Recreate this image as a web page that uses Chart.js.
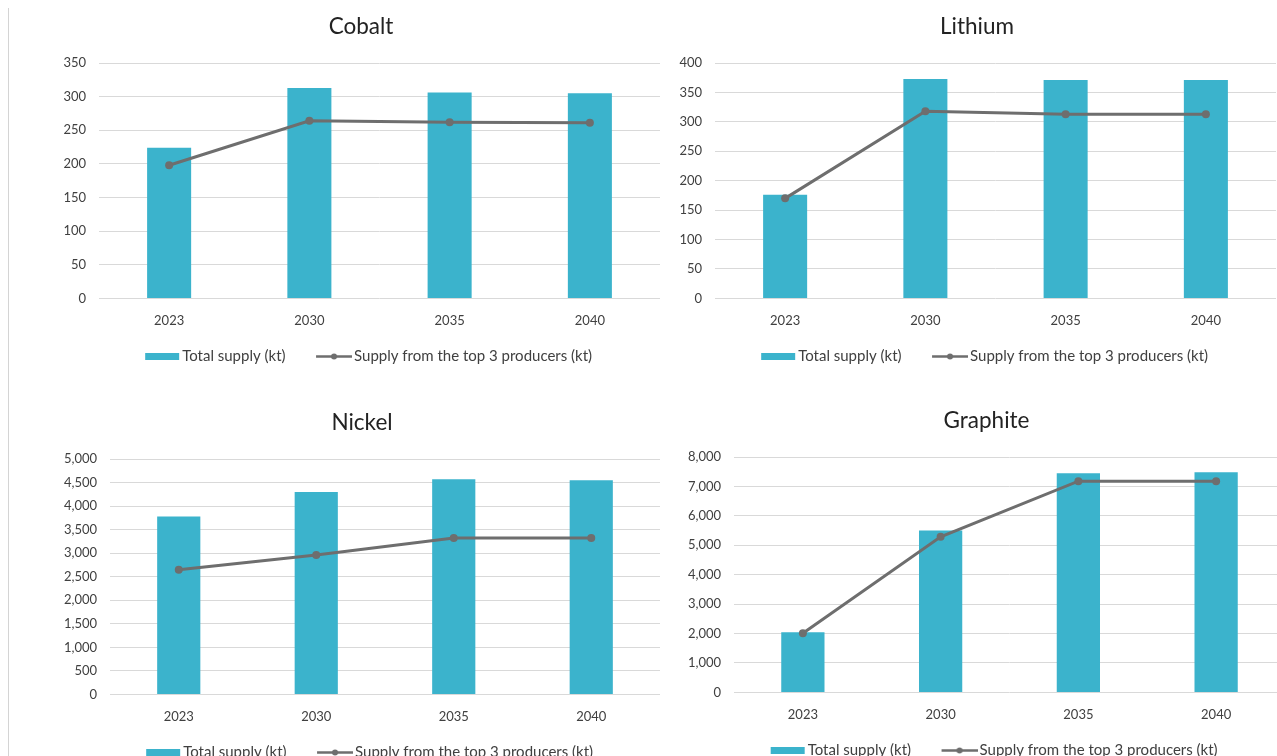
<!DOCTYPE html>
<html>
<head>
<meta charset="utf-8">
<script src="https://cdn.jsdelivr.net/npm/chart.js@4.4.1/dist/chart.umd.min.js"></script>
<style>
  html, body { margin: 0; padding: 0; background: #fff; overflow: hidden; }
  body { width: 1277px; height: 756px; position: relative; }
  canvas { position: absolute; }
  #cobaltChart { left: 50px; top: 0px; }
  #lithiumChart { left: 666px; top: 0px; }
  #nickelChart { left: 45px; top: 396px; }
  #graphiteChart { left: 670px; top: 394px; }
  .edge { position: absolute; left: 8px; top: 8px; bottom: 0; width: 1px; background: #d4d4d4; }
</style>
</head>
<body>
<div class="edge"></div>
<canvas id="cobaltChart" width="630" height="374"></canvas>
<canvas id="lithiumChart" width="630" height="374"></canvas>
<canvas id="nickelChart" width="640" height="374"></canvas>
<canvas id="graphiteChart" width="630" height="374"></canvas>
<script>
// Supply of battery minerals, total vs top 3 producers (kt)
const years = ["2023", "2030", "2035", "2040"];

const cobaltTotal = [224, 313, 306, 305];
const cobaltTop3 = [198, 264, 262, 261];

const lithiumTotal = [176, 373, 371, 371];
const lithiumTop3 = [170, 318, 313, 313];

const nickelTotal = [3780, 4300, 4570, 4550];
const nickelTop3 = [2650, 2960, 3320, 3320];

const graphiteTotal = [2040, 5500, 7450, 7480];
const graphiteTop3 = [2010, 5290, 7180, 7180];

const seriesNames = ["Total supply (kt)", "Supply from the top 3 producers (kt)"];

const barColor = "#3BB3CC";
const lineColor = "#6E6E6E";
const textColor = "#404040";

Chart.defaults.font.family = "Lato, 'Open Sans', sans-serif";
Chart.defaults.color = textColor;

// legend swatches, drawn as images so the bar one is a flat box and the line one has a dot
// (transparent space on the left makes the gap between the two legend items)
function makeSwatch(kind) {
  const c = document.createElement("canvas");
  c.width = 67;
  c.height = 9;
  const g = c.getContext("2d");
  if (kind === "bar") {
    g.fillStyle = barColor;
    g.fillRect(32, 1, 34, 7);
  } else {
    g.strokeStyle = lineColor;
    g.lineWidth = 2.5;
    g.beginPath();
    g.moveTo(31, 4.5);
    g.lineTo(67, 4.5);
    g.stroke();
    g.fillStyle = lineColor;
    g.beginPath();
    g.arc(49, 4.5, 3, 0, Math.PI * 2);
    g.fill();
  }
  return c;
}
const barSwatch = makeSwatch("bar");
const lineSwatch = makeSwatch("line");

function renderPanel(id, title, total, top3, yMax, yStep, pad, axisWidth) {
  const ctx = document.getElementById(id).getContext("2d");
  new Chart(ctx, {
    type: "bar",
    data: {
      labels: years,
      datasets: [
        {
          label: seriesNames[0],
          data: total,
          backgroundColor: barColor,
          borderWidth: 0,
          barPercentage: 0.314,
          categoryPercentage: 1,
          order: 1
        },
        {
          type: "line",
          label: seriesNames[1],
          data: top3,
          borderColor: lineColor,
          backgroundColor: lineColor,
          borderWidth: 3,
          pointRadius: 4,
          pointBackgroundColor: lineColor,
          pointBorderWidth: 0,
          tension: 0,
          order: 0
        }
      ]
    },
    options: {
      responsive: false,
      animation: false,
      events: [],
      layout: { padding: { left: pad[0], right: pad[1], top: 0, bottom: 0 } },
      plugins: {
        title: {
          display: true,
          text: title,
          color: "#222",
          font: { size: 22.5, weight: "normal" },
          padding: { top: 13.5, bottom: 22.5 }
        },
        legend: {
          display: true,
          position: "bottom",
          labels: {
            usePointStyle: true,
            pointStyleWidth: 56,
            padding: 5,
            color: textColor,
            font: { size: 15 },
            sort: (a, b) => a.datasetIndex - b.datasetIndex,
            generateLabels: function(chart) {
              const items = Chart.defaults.plugins.legend.labels.generateLabels(chart);
              items.forEach(item => {
                item.pointStyle = item.datasetIndex === 0 ? barSwatch : lineSwatch;
                if (item.datasetIndex === 1) item.text = item.text + "\u2003";
              });
              return items;
            }
          }
        },
        tooltip: { enabled: false }
      },
      scales: {
        x: {
          grid: { display: false, drawTicks: false },
          border: { display: false },
          ticks: { padding: 15, font: { size: 13 }, color: textColor }
        },
        y: {
          min: 0,
          max: yMax,
          afterFit: scale => { scale.width = axisWidth; },
          grid: { color: "#D9D9D9", lineWidth: 1, drawTicks: false },
          border: { display: false },
          ticks: { stepSize: yStep, padding: 13, font: { size: 13 }, color: textColor }
        }
      }
    }
  });
}

renderPanel("cobaltChart", "Cobalt", cobaltTotal, cobaltTop3, 350, 50, [12, 20], 37);
renderPanel("lithiumChart", "Lithium", lithiumTotal, lithiumTop3, 400, 50, [12, 20], 37);
renderPanel("nickelChart", "Nickel", nickelTotal, nickelTop3, 5000, 500, [19, 25], 46);
renderPanel("graphiteChart", "Graphite", graphiteTotal, graphiteTop3, 8000, 1000, [18, 15], 46);
</script>
</body>
</html>
